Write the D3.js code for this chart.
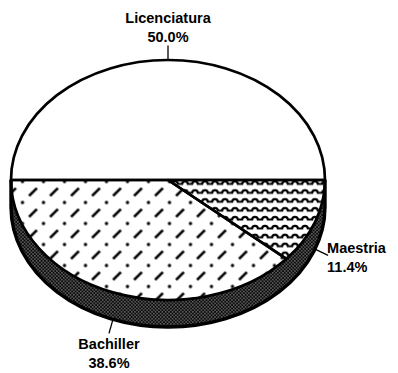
<!DOCTYPE html>
<html>
<head>
<meta charset="utf-8">
<script src="https://cdn.jsdelivr.net/npm/d3@7"></script>
<style>
  html, body { margin: 0; padding: 0; background: #fff; }
  svg { display: block; }
  text { font-family: "Liberation Sans", Arial, sans-serif; font-weight: bold; font-size: 14.5px; fill: #000; }
</style>
</head>
<body>
<svg id="chart" width="398" height="373"></svg>
<script>
// Nivel de estudios
const categories = ["Licenciatura", "Maestria", "Bachiller"];
const values = [50.0, 11.4, 38.6];
const valueLabels = ["50.0%", "11.4%", "38.6%"];
const fills = ["white", "url(#waves)", "url(#dashdot)"];

const cx = 168, cy = 180, rx = 157, ry = 120, depth = 27;

const svg = d3.select("#chart");
const defs = svg.append("defs");

// horizontal scalloped lines
const waves = defs.append("pattern")
  .attr("id", "waves").attr("patternUnits", "userSpaceOnUse")
  .attr("x", 0).attr("y", 0.5).attr("width", 10).attr("height", 8.9);
waves.append("path")
  .attr("d", "M0,5.5 L2.2,5.5 A2.8,2.6 0 0 1 7.8,5.5 L10,5.5")
  .attr("fill", "none").attr("stroke", "#000").attr("stroke-width", 2.1);

// diagonal dash-dot lines
const dd = defs.append("pattern")
  .attr("id", "dashdot").attr("patternUnits", "userSpaceOnUse")
  .attr("x", 1.5).attr("y", 13.5).attr("width", 21).attr("height", 21);
dd.append("line")
  .attr("x1", 6.6).attr("y1", 14.4).attr("x2", 14.4).attr("y2", 6.6)
  .attr("stroke", "#000").attr("stroke-width", 2.7).attr("stroke-linecap", "butt");
[[0, 0], [21, 0], [0, 21], [21, 21]].forEach(([x, y]) =>
  dd.append("circle").attr("cx", x).attr("cy", y).attr("r", 1.7).attr("fill", "#000"));

// dark stipple for the rim
const st = defs.append("pattern")
  .attr("id", "stipple").attr("patternUnits", "userSpaceOnUse")
  .attr("width", 3.4).attr("height", 3.4);
st.append("rect").attr("width", 3.4).attr("height", 3.4).attr("fill", "#0a0a0a");
st.append("rect").attr("x", 0.3).attr("y", 0.3).attr("width", 1).attr("height", 1).attr("fill", "#ddd");
st.append("rect").attr("x", 2).attr("y", 2).attr("width", 1).attr("height", 1).attr("fill", "#ddd");

const data = categories.map((c, i) => ({ name: c, value: values[i], label: valueLabels[i], fill: fills[i] }));

const pie = d3.pie().sort(null).value(d => d.value)
  .startAngle(-Math.PI / 2).endAngle(3 * Math.PI / 2);
const arcs = pie(data);

// point on the tilted disc for a pie angle (0 = up, clockwise)
const pt = (a, dy = 0) => [cx + rx * Math.sin(a), cy - ry * Math.cos(a) + dy];
const f = p => p[0].toFixed(2) + "," + p[1].toFixed(2);

function topPath(a0, a1) {
  const p0 = pt(a0), p1 = pt(a1);
  const large = (a1 - a0) > Math.PI ? 1 : 0;
  return `M${cx},${cy}L${f(p0)}A${rx},${ry} 0 ${large} 1 ${f(p1)}Z`;
}

function sidePath(a0, a1) {
  const s0 = Math.max(a0, Math.PI / 2), s1 = Math.min(a1, 3 * Math.PI / 2);
  if (s1 <= s0) return null;
  return `M${f(pt(s0))}A${rx},${ry} 0 0 1 ${f(pt(s1))}` +
    `L${f(pt(s1, depth))}A${rx},${ry} 0 0 0 ${f(pt(s0, depth))}Z`;
}

const g = svg.append("g");

// rim, one band per slice
arcs.forEach(d => {
  const p = sidePath(d.startAngle, d.endAngle);
  if (p) g.append("path").attr("d", p).attr("fill", "url(#stipple)")
    .attr("stroke", "url(#stipple)").attr("stroke-width", 1);
});
// outline of the rim, heavier along the lower edge
g.append("path")
  .attr("d", `M${f(pt(Math.PI / 2, 0))}L${f(pt(Math.PI / 2, depth))}A${rx},${ry} 0 0 1 ${f(pt(3 * Math.PI / 2, depth))}L${f(pt(3 * Math.PI / 2, 0))}`)
  .attr("fill", "none").attr("stroke", "#000").attr("stroke-width", 3.4);

// top faces
arcs.forEach(d => {
  g.append("path").attr("d", topPath(d.startAngle, d.endAngle))
    .attr("fill", d.data.fill).attr("stroke", "#000")
    .attr("stroke-width", 2.7).attr("stroke-linejoin", "round");
});

// leaders and labels
arcs.forEach(d => {
  const a = (d.startAngle + d.endAngle) / 2;
  const front = Math.cos(a) < 0;
  const p = pt(a, front ? depth : 0);
  let nx = Math.sin(a) / rx, ny = -Math.cos(a) / ry;
  const n = Math.hypot(nx, ny); nx /= n; ny /= n;
  const e = [p[0] + nx * 14.5, p[1] + ny * 14.5];
  g.append("line").attr("x1", p[0]).attr("y1", p[1]).attr("x2", e[0]).attr("y2", e[1])
    .attr("stroke", "#000").attr("stroke-width", 1.3);

  let x, y1, anchor;
  if (nx > 0.5) { anchor = "start"; x = e[0] - 1; y1 = e[1] - 2; }
  else if (nx < -0.5) { anchor = "end"; x = e[0] + 1; y1 = e[1] - 2; }
  else if (ny < 0) { anchor = "middle"; x = e[0]; y1 = e[1] - 23; }
  else { anchor = "middle"; x = e[0]; y1 = e[1] + 16; }

  const t = g.append("text").attr("text-anchor", anchor);
  t.append("tspan").attr("x", x).attr("y", y1).text(d.data.name);
  t.append("tspan").attr("x", x).attr("y", y1 + 19).text(d.data.label);
});
</script>
</body>
</html>
